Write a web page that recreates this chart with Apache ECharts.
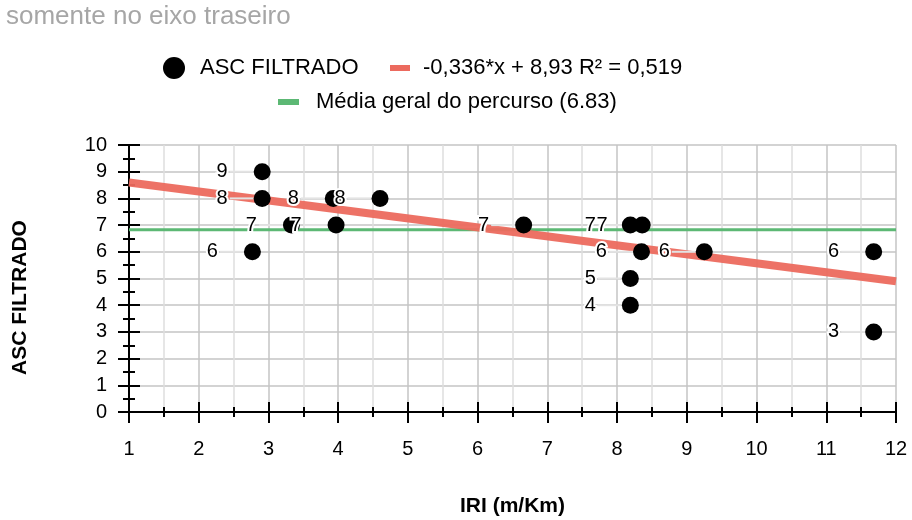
<!DOCTYPE html>
<html>
<head>
<meta charset="utf-8">
<title>ASC x IRI</title>
<script src="https://cdn.jsdelivr.net/npm/echarts@6/dist/echarts.min.js"></script>
<style>
    html, body { margin: 0; padding: 0; background: #fff; }
    #chart { width: 912px; height: 520px; }
</style>
</head>
<body>
<div id="chart"></div>
<script>
// Values
const iriValues = [2.91, 2.91, 3.93, 4.60, 3.33, 3.97, 6.66, 2.77, 8.19, 8.36, 8.35, 9.25, 11.68, 8.19, 8.19, 11.68];
const ascValues = [9, 8, 8, 8, 7, 7, 7, 6, 7, 7, 6, 6, 6, 5, 4, 3];

// Trend line end points (from -0,336*x + 8,93) and route average
const trendX = [1, 12];
const trendY = [8.594, 4.898];
const meanX = [1, 12];
const meanY = [6.83, 6.83];

const scatterName = 'ASC FILTRADO';
const trendName = '-0,336*x + 8,93 R² = 0,519';
const meanName = 'Média geral do percurso (6.83)';

const FONT = "'Liberation Sans', Arial, sans-serif";

document.addEventListener('DOMContentLoaded', function() {
    const chart = echarts.init(document.getElementById('chart'));

    const points = iriValues.map((x, i) => [x, ascValues[i]]);
    const trendData = trendX.map((x, i) => [x, trendY[i]]);
    const meanData = meanX.map((x, i) => [x, meanY[i]]);

    // ticks crossing the axis line: one axis draws them outside, a twin draws them inside
    const xBase = { type: 'value', min: 1, max: 12, interval: 1, position: 'bottom' };
    const yBase = { type: 'value', min: 0, max: 10, interval: 1, position: 'left' };

    chart.setOption({
        animation: false,
        textStyle: { fontFamily: FONT },
        title: {
            text: 'somente no eixo traseiro',
            left: 6,
            top: 4,
            padding: 0,
            textStyle: { color: '#a6a6a6', fontSize: 26, fontWeight: 'normal', fontFamily: FONT }
        },
        legend: [
            {
                data: [scatterName],
                left: 163, top: 57, padding: 0,
                icon: 'circle', itemWidth: 22, itemHeight: 22,
                textStyle: { fontSize: 22, color: '#000', padding: [0, 0, 0, 10] }
            },
            {
                data: [trendName],
                left: 390, top: 57, padding: 0,
                icon: 'rect', itemWidth: 20, itemHeight: 6,
                textStyle: { fontSize: 22, color: '#000', padding: [0, 0, 0, 8] }
            },
            {
                data: [meanName],
                left: 278, top: 91, padding: 0,
                icon: 'rect', itemWidth: 21, itemHeight: 6,
                textStyle: { fontSize: 22, color: '#000', padding: [0, 0, 0, 12] }
            }
        ],
        grid: { left: 129, right: 16, top: 145, bottom: 108, containLabel: false, outerBoundsMode: 'none' },
        xAxis: [
            Object.assign({}, xBase, {
                name: 'IRI (m/Km)',
                nameLocation: 'middle',
                nameGap: 84,
                nameTextStyle: { fontSize: 21, fontWeight: 'bold', color: '#000' },
                axisLine: { show: true, lineStyle: { color: '#000', width: 2 } },
                axisTick: { show: true, length: 11, lineStyle: { color: '#000', width: 2 } },
                minorTick: { show: true, splitNumber: 2, length: 5, lineStyle: { color: '#000', width: 2 } },
                axisLabel: { fontSize: 20, color: '#000', margin: 27 },
                splitLine: { show: true, lineStyle: { color: '#c4c4c4', width: 1.5 } },
                minorSplitLine: { show: true, lineStyle: { color: '#dedede', width: 1.5 } }
            }),
            Object.assign({}, xBase, {
                axisLine: { show: false },
                axisTick: { show: true, inside: true, length: 10, lineStyle: { color: '#000', width: 2 } },
                minorTick: { show: true, splitNumber: 2, length: 5, lineStyle: { color: '#000', width: 2 } },
                axisLabel: { show: false },
                splitLine: { show: false }
            })
        ],
        yAxis: [
            Object.assign({}, yBase, {
                name: 'ASC FILTRADO',
                nameLocation: 'middle',
                nameGap: 98,
                nameTextStyle: { fontSize: 21, fontWeight: 'bold', color: '#000', padding: [0, 38, 0, 0] },
                axisLine: { show: true, lineStyle: { color: '#000', width: 2 } },
                axisTick: { show: true, length: 11, lineStyle: { color: '#000', width: 2 } },
                minorTick: { show: true, splitNumber: 2, length: 6, lineStyle: { color: '#000', width: 2 } },
                axisLabel: { fontSize: 20, color: '#000', margin: 22 },
                splitLine: { show: true, lineStyle: { color: '#c4c4c4', width: 1.5 } },
                minorSplitLine: { show: false }
            }),
            Object.assign({}, yBase, {
                axisLine: { show: false },
                axisTick: { show: true, inside: true, length: 11, lineStyle: { color: '#000', width: 2 } },
                minorTick: { show: true, splitNumber: 2, length: 6, lineStyle: { color: '#000', width: 2 } },
                axisLabel: { show: false },
                splitLine: { show: false }
            })
        ],
        series: [
            {
                name: meanName,
                type: 'line',
                data: meanData,
                symbol: 'none',
                z: 2,
                lineStyle: { color: '#5cb874', width: 3 },
                itemStyle: { color: '#5cb874' }
            },
            {
                name: trendName,
                type: 'line',
                data: trendData,
                symbol: 'none',
                z: 3,
                lineStyle: { color: '#ec6a5e', width: 8, opacity: 0.95 },
                itemStyle: { color: '#ec6a5e' }
            },
            {
                name: scatterName,
                type: 'scatter',
                data: points,
                z: 5,
                symbol: 'circle',
                symbolSize: 17,
                itemStyle: { color: '#000', opacity: 1 },
                label: {
                    show: true,
                    position: 'left',
                    distance: 5,
                    formatter: p => p.value[1],
                    fontSize: 20,
                    color: '#000',
                    textBorderColor: '#fff',
                    textBorderWidth: 4
                },
                labelLayout: { dx: -21 },
                labelLine: { show: true, lineStyle: { color: '#e3e3e3', width: 2 } }
            }
        ]
    });

    window.addEventListener('resize', function() {
        chart.resize();
    });
});
</script>
</body>
</html>
